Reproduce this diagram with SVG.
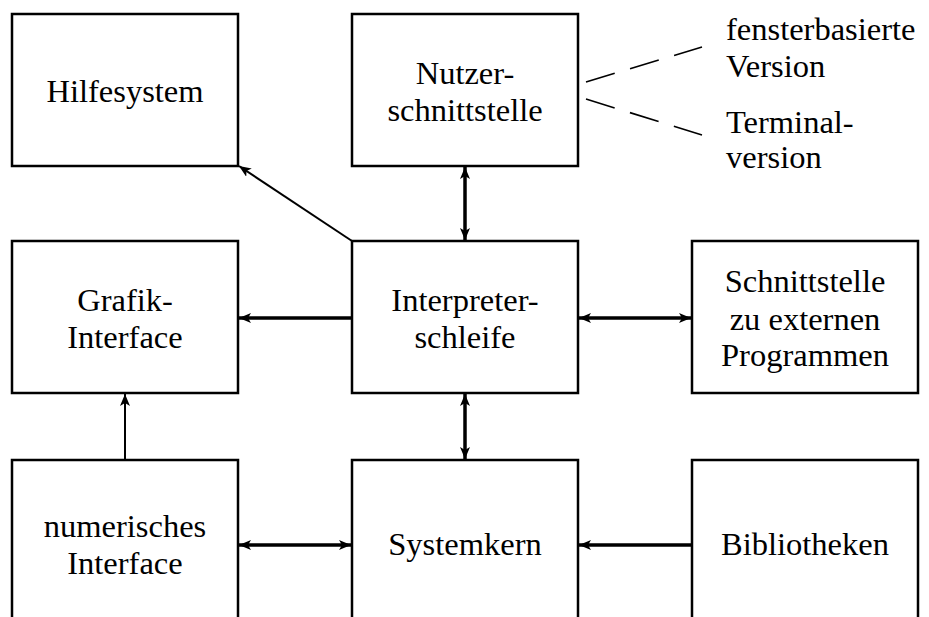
<svg xmlns="http://www.w3.org/2000/svg" width="929" height="617" viewBox="0 0 929 617">
<style>
.box{fill:#fff;stroke:#000;stroke-width:2.5}
.t text{font-size:32.5px;fill:#000;text-anchor:middle}
.t text.lab{text-anchor:start}
.thick{stroke:#000;stroke-width:3.5;fill:none}
.thin{stroke:#000;stroke-width:2;fill:none}
.dash{stroke:#000;stroke-width:1.6;fill:none;stroke-dasharray:30 16}
</style>
<defs>
<marker id="ah" viewBox="0 0 12 10" refX="12" refY="5" markerWidth="12" markerHeight="10" markerUnits="userSpaceOnUse" orient="auto-start-reverse">
<path d="M0,0 L12,5 L0,10 L3,5 Z" fill="#000"/>
</marker>
</defs>
<rect width="929" height="617" fill="#fff"/>
<g class="t" font-family="'Liberation Serif', 'Times New Roman', 'DejaVu Serif', serif">
<g id="hilfesystem"><rect class="box" x="12" y="14" width="226" height="152"/><text x="125" y="102">Hilfesystem</text></g>
<g id="nutzer"><rect class="box" x="352" y="14" width="226" height="152"/><text x="465" y="84">Nutzer-</text><text x="465" y="121">schnittstelle</text></g>
<g id="versionen"><text class="lab" x="726" y="40">fensterbasierte</text><text class="lab" x="726" y="77">Version</text><text class="lab" x="726" y="133">Terminal-</text><text class="lab" x="726" y="168">version</text></g>
<g id="grafik"><rect class="box" x="12" y="241" width="226" height="152"/><text x="125" y="311">Grafik-</text><text x="125" y="348">Interface</text></g>
<g id="interpreter"><rect class="box" x="352" y="241" width="226" height="152"/><text x="465" y="311">Interpreter-</text><text x="465" y="348">schleife</text></g>
<g id="schnittstelle"><rect class="box" x="692" y="241" width="226" height="152"/><text x="805" y="292">Schnittstelle</text><text x="805" y="330">zu externen</text><text x="805" y="366">Programmen</text></g>
<g id="numerisch"><rect class="box" x="12" y="460" width="226" height="200"/><text x="125" y="537">numerisches</text><text x="125" y="574">Interface</text></g>
<g id="systemkern"><rect class="box" x="352" y="460" width="226" height="200"/><text x="465" y="555">Systemkern</text></g>
<g id="bibliotheken"><rect class="box" x="692" y="460" width="226" height="200"/><text x="805" y="555">Bibliotheken</text></g>
</g>
<g id="connectors">
<path class="dash" d="M586,82 L702,47"/>
<path class="dash" d="M586,99 L702,135"/>
<path class="thin" d="M352,241 L239,166" marker-end="url(#ah)"/>
<path class="thick" d="M465,167 L465,240" marker-start="url(#ah)" marker-end="url(#ah)"/>
<path class="thick" d="M351,318 L239,318" marker-end="url(#ah)"/>
<path class="thick" d="M579,318 L691,318" marker-start="url(#ah)" marker-end="url(#ah)"/>
<path class="thick" d="M465,394 L465,459" marker-start="url(#ah)" marker-end="url(#ah)"/>
<path class="thin" d="M125,459 L125,394" marker-end="url(#ah)"/>
<path class="thick" d="M239,545 L351,545" marker-start="url(#ah)" marker-end="url(#ah)"/>
<path class="thick" d="M691,545 L579,545" marker-end="url(#ah)"/>
</g>
</svg>
